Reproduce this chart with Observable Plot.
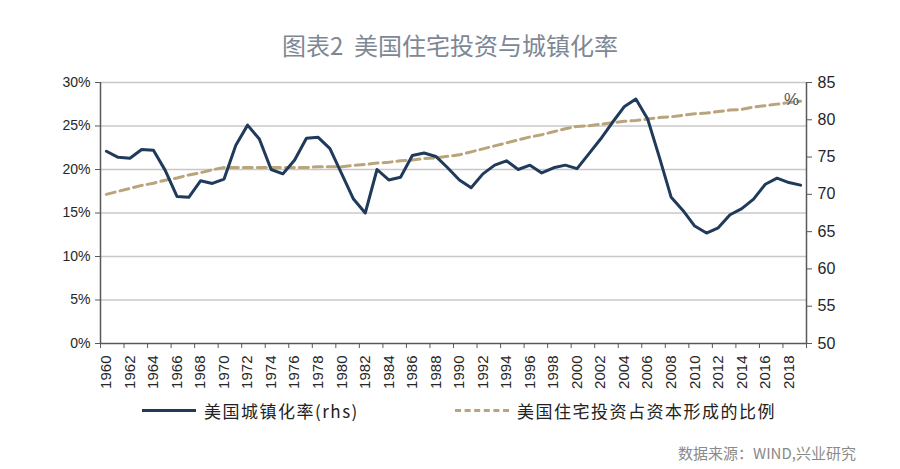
<!DOCTYPE html>
<html>
<head>
<meta charset="utf-8">
<script src="https://cdn.jsdelivr.net/npm/d3@7"></script>
<script src="https://cdn.jsdelivr.net/npm/@observablehq/plot@0.6"></script>
<style>
  html, body { margin: 0; padding: 0; background: #fff; }
  body { position: relative; width: 900px; height: 469px; overflow: hidden; font-family: "Liberation Sans", Arial, sans-serif; }
  #title { position: absolute; top: 29px; left: 0; width: 900px; text-align: center; font-family: "Noto Sans CJK SC", sans-serif; font-size: 24px; line-height: 32px; color: #7d8894; font-weight: 400; }
  #chart { position: absolute; top: 60px; left: 0; }
  .leg { position: absolute; top: 398px; height: 24px; display: flex; align-items: center; font-family: "Noto Sans CJK SC", sans-serif; font-size: 17px; letter-spacing: 1.5px; color: #222; }
  .sw { display: inline-block; width: 54px; height: 0; margin-right: 8px; }
  #source { position: absolute; top: 442px; left: 678px; font-family: "Noto Sans CJK SC", sans-serif; font-size: 15px; color: #8a8a8a; }
</style>
</head>
<body>
<div id="title">图表2&nbsp; 美国住宅投资与城镇化率</div>
<div id="chart"></div>
<div class="leg" style="left:142px;"><span class="sw" style="border-top:3px solid #1f3a5a;"></span>美国城镇化率(rhs)</div>
<div class="leg" style="left:455px;"><span class="sw" style="border-top:3px dashed #b9a47c;"></span>美国住宅投资占资本形成的比例</div>
<div id="source">数据来源：WIND,兴业研究</div>
<script>
const years = d3.range(1960, 2020);
// navy solid line (left axis, %)
const navyValues = [
  22.1, 21.4, 21.3, 22.3, 22.2, 19.9, 16.9, 16.8, 18.7, 18.4,
  18.9, 22.8, 25.1, 23.5, 20.0, 19.5, 21.1, 23.6, 23.7, 22.4,
  19.5, 16.6, 15.0, 20.0, 18.8, 19.1, 21.6, 21.9, 21.5, 20.2,
  18.8, 17.9, 19.5, 20.5, 21.0, 20.0, 20.5, 19.6, 20.2, 20.5,
  20.1, 21.8, 23.5, 25.4, 27.2, 28.1, 25.8, 21.4, 16.8, 15.3,
  13.5, 12.7, 13.3, 14.8, 15.5, 16.6, 18.3, 19.0, 18.5, 18.2
];
// dashed line (right axis)
const dashedValues = [
  70.0, 70.4, 70.8, 71.2, 71.5, 71.9, 72.2, 72.6, 72.9, 73.3,
  73.6, 73.6, 73.6, 73.6, 73.6, 73.6, 73.6, 73.6, 73.7, 73.7,
  73.7, 73.9, 74.0, 74.2, 74.3, 74.5, 74.6, 74.8, 74.9, 75.1,
  75.3, 75.7, 76.1, 76.5, 76.9, 77.3, 77.7, 78.0, 78.4, 78.8,
  79.1, 79.2, 79.4, 79.6, 79.8, 79.9, 80.1, 80.3, 80.4, 80.6,
  80.8, 80.9, 81.1, 81.3, 81.4, 81.7, 81.9, 82.1, 82.3, 82.5
];
const xLabelYears = d3.range(1960, 2019, 2);
const leftTicks = [0, 5, 10, 15, 20, 25, 30];
const rightTicks = [50, 55, 60, 65, 70, 75, 80, 85];
const rightMin = 50, rightMax = 85, leftMax = 30;
const toLeft = v => (v - rightMin) / (rightMax - rightMin) * leftMax;
const fromLeft = d => rightMin + d * (rightMax - rightMin) / leftMax;

const navy = years.map((y, i) => ({year: y, value: navyValues[i]}));
const dashed = years.map((y, i) => ({year: y, value: toLeft(dashedValues[i])}));
const boundaries = d3.range(years[0] - 0.5, years[years.length - 1] + 1, 2);

const axisColor = "#595959";
const chart = Plot.plot({
  width: 900,
  height: 340,
  marginLeft: 100,
  marginRight: 94,
  marginTop: 22,
  marginBottom: 57,
  style: {fontFamily: "'Liberation Sans', Arial, sans-serif", color: "#262626", background: "transparent"},
  x: {type: "linear", domain: [years[0] - 0.5, years[years.length - 1] + 0.5]},
  y: {domain: [0, leftMax]},
  marks: [
    Plot.gridY(leftTicks.filter(d => d > 0), {stroke: "#c8c8c8", strokeOpacity: 1, strokeWidth: 1.5}),
    Plot.axisY({ticks: leftTicks, tickFormat: d => d + "%", tickSize: 5, tickPadding: 5, fontSize: 14, stroke: axisColor, label: null}),
    Plot.axisY({anchor: "right", ticks: rightTicks.map(toLeft), tickFormat: d => String(Math.round(fromLeft(d))), tickSize: 5, tickPadding: 6, fontSize: 16, stroke: axisColor, label: null}),
    Plot.axisX({ticks: boundaries, tickFormat: () => "", tickSize: 5, stroke: axisColor, label: null}),
    Plot.axisX({ticks: xLabelYears, tickFormat: d => String(d), tickSize: 0, tickPadding: 12, tickRotate: -90, fontSize: 15, label: null}),
    Plot.ruleY([0], {stroke: axisColor, strokeWidth: 1.5}),
    Plot.ruleX([years[0] - 0.5, years[years.length - 1] + 0.5], {stroke: axisColor, strokeWidth: 1.5}),
    Plot.line(dashed, {x: "year", y: "value", stroke: "#b9a47c", strokeWidth: 3, strokeDasharray: "9,5"}),
    Plot.line(navy, {x: "year", y: "value", stroke: "#1f3a5a", strokeWidth: 3}),
    Plot.text([dashed[dashed.length - 1]], {x: "year", y: "value", text: () => "%", dx: -9, dy: -2, fontSize: 17, fill: "#555"})
  ]
});
document.getElementById("chart").appendChild(chart);
</script>
</body>
</html>
